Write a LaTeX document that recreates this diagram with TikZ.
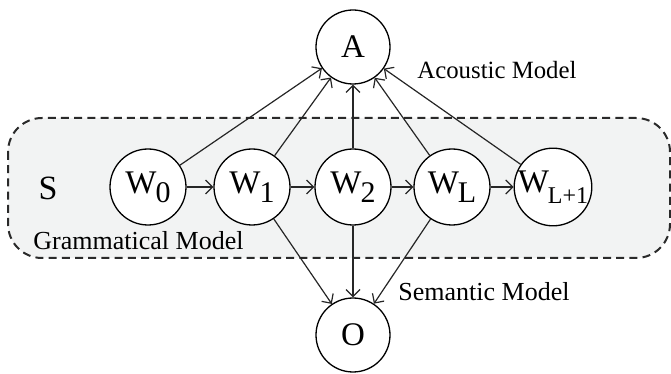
\documentclass[tikz,border=0pt]{standalone}
\usepackage{fontspec}
\setmainfont{Liberation Serif}
\usetikzlibrary{arrows.meta}
\definecolor{boxfill}{HTML}{F2F3F3}
\definecolor{boxline}{HTML}{2A2A2A}
\tikzset{
  bignode/.style={circle,draw=black,line width=0.65pt,fill=white,inner sep=0pt,minimum size=#1,font=\fontsize{16.5}{18}\selectfont},
  lbl/.style={anchor=base west,inner sep=0pt,font=\fontsize{13}{15}\selectfont},
  arr/.style={draw=black!85,line width=0.6pt,-{Straight Barb[length=3.5pt,width=7pt]}},
  regionbox/.style={draw=boxline,fill=boxfill,line width=1pt,dash pattern=on 4pt off 2.6pt,rounded corners=17pt}
}
\newcommand{\wsub}[1]{W\kern-0.5pt\raisebox{-0.28em}{\fontsize{15}{15}\selectfont #1}}
\newcommand{\wsubsmall}[1]{W\kern-0.5pt\raisebox{-0.34em}{\fontsize{12}{12}\selectfont #1}}
\begin{document}
\begin{tikzpicture}[x=0.5pt,y=-0.5pt]
\useasboundingbox (0,0) rectangle (671,374);
\draw[regionbox] (8,118) rectangle (670,258);
\node[bignode=37pt] (A) at (353,47) {A};
\node[bignode=37pt] (O) at (353,335) {O};
\node[bignode=38pt] (w0) at (148,187) {\wsub{0}};
\node[bignode=38pt] (w1) at (252,187) {\wsub{1}};
\node[bignode=38pt] (w2) at (353,187) {\wsub{2}};
\node[bignode=38pt] (wL) at (452,187) {\wsub{L}};
\node[bignode=38pt] (wL1) at (553,187) {\wsubsmall{L+1}};
\node[inner sep=0pt,font=\fontsize{17}{18}\selectfont] (S) at (48,188) {S};
\node[lbl,font=\fontsize{12.4}{15}\selectfont] (acl) at (417,79) {Acoustic Model};
\node[lbl] (sml) at (398,301) {Semantic Model};
\node[lbl] (gml) at (33,250) {Grammatical Model};
\draw[arr] (w0) -- (w1);
\draw[arr] (w1) -- (w2);
\draw[arr] (w2) -- (wL);
\draw[arr] (wL) -- (wL1);
\draw[arr] (w0) -- (A);
\draw[arr] (w1) -- (A);
\draw[arr] (w2) -- (A);
\draw[arr] (wL) -- (A);
\draw[arr] (wL1) -- (A);
\draw[arr] (w1) -- (O);
\draw[arr] (w2) -- (O);
\draw[arr] (wL) -- (O);
\end{tikzpicture}
\end{document}
